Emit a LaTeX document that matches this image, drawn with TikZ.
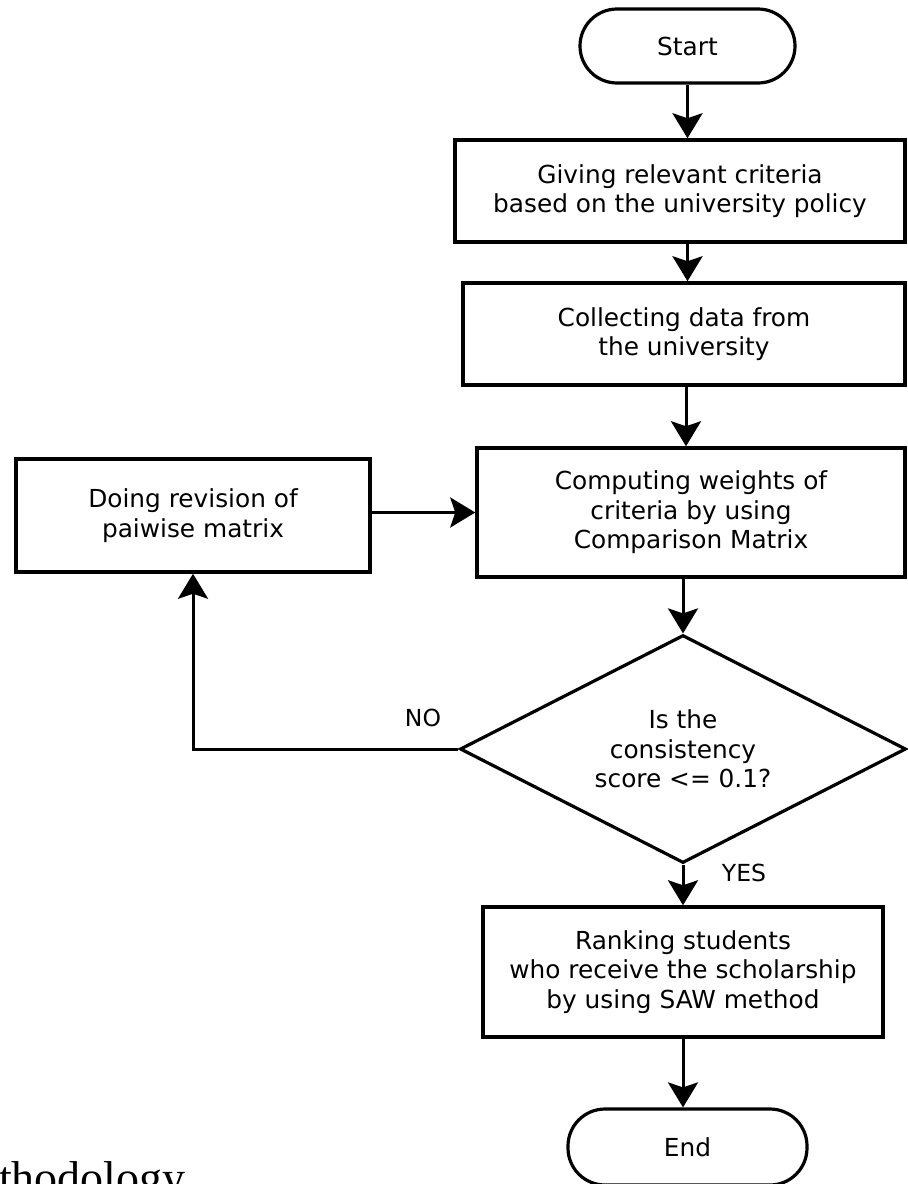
\documentclass[tikz,border=0pt]{standalone}
\usepackage{fontspec}
\setmainfont{DejaVu Sans}
\newfontfamily\serifcap{Liberation Serif}
\usetikzlibrary{arrows.meta,shapes.geometric,calc}
\tikzset{
  txt/.style={font=\fontsize{24.8}{29.5}\selectfont, align=center, text=black},
  boxnode/.style={draw, line width=3.5pt, rectangle, inner sep=0pt, txt},
  pill/.style={draw, line width=3.2pt, rectangle, rounded corners=37pt, inner sep=0pt, txt},
  decnode/.style={draw, line width=3.2pt, diamond, shape aspect=2, inner sep=0pt, txt},
  arr/.style={-{Stealth[length=25pt,width=30pt,inset=5pt]}, line width=3pt},
  lbl/.style={font=\fontsize{23.5}{28}\selectfont, text=black, inner sep=0pt}
}
\begin{document}
\begin{tikzpicture}[x=1pt,y=-1pt]
\useasboundingbox (0,0) rectangle (908,1184);
\clip (0,0) rectangle (908,1184);
\fill[white] (0,0) rectangle (908,1184);

\node[pill, minimum width=215pt, minimum height=74pt] (start) at (687.5,46) {Start};
\node[boxnode, minimum width=450pt, minimum height=102pt] (b1) at (680,191)
  {Giving relevant criteria\\based on the university policy};
\node[boxnode, minimum width=442pt, minimum height=102pt] (b2) at (684,334)
  {Collecting data from\\the university};
\node[boxnode, minimum width=428pt, minimum height=129pt] (b3) at (691,512.5)
  {Computing weights of\\criteria by using\\Comparison Matrix};
\node[boxnode, minimum width=354pt, minimum height=113pt] (rev) at (193,515.5)
  {Doing revision of\\paiwise matrix};
\node[decnode, minimum width=446pt, minimum height=228pt] (dec) at (683,749)
  {Is the\\consistency\\score <= 0.1?};
\node[boxnode, minimum width=400pt, minimum height=130pt] (b4) at (683,972)
  {Ranking students\\who receive the scholarship\\by using SAW method};
\node[pill, minimum width=239pt, minimum height=76pt] (end) at (687.5,1147) {End};

\node[lbl] (no) at (423,718) {NO};
\node[lbl] (yes) at (744,873) {YES};

\node[font=\serifcap\fontsize{46}{50}\selectfont, anchor=base west, inner sep=0pt] (meth) at (-1,1193) {thodology};

\draw[arr] (start.south) -- (start.south |- b1.north);
\draw[arr] (b1.south -| start.south) -- (b2.north -| start.south);
\draw[arr] ($(b2.south)+(2,0)$) -- ($(b2.south |- b3.north)+(2,0)$);
\draw[arr] (b3.south -| dec.north) -- (dec.north);
\draw[arr] (rev.east |- b3.west) -- (b3.west);
\draw[arr] (dec.west) -| (rev.south);
\draw[arr] (dec.south) -- (b4.north);
\draw[arr] (b4.south) -- (b4.south |- end.north);
\end{tikzpicture}
\end{document}
